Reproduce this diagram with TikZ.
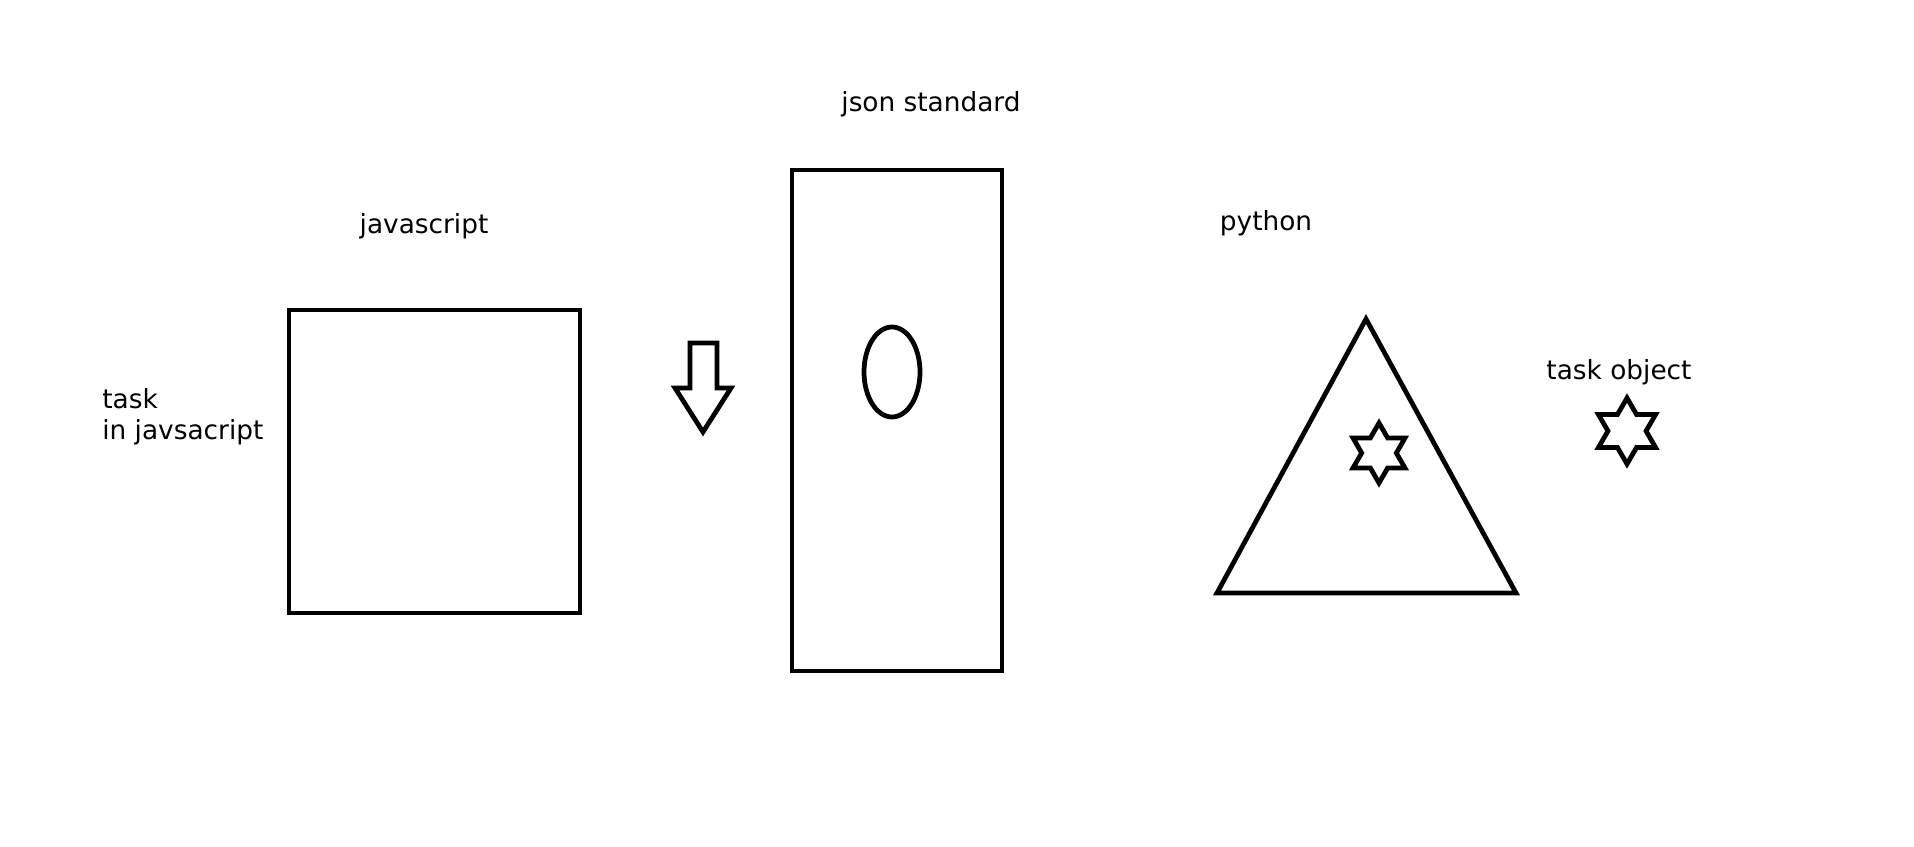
\documentclass[tikz,border=0pt]{standalone}
\usepackage{fontspec}
\setmainfont{DejaVu Sans}
\usepackage{tikz}
\usetikzlibrary{positioning, calc}
\tikzset{shapeline/.style = {draw=black, line width=0.095cm, line join=miter},
	labeltext/.style = {text=black, inner sep=0pt, font=\fontsize{15}{17}\selectfont}}
\NewDocumentCommand{\hexstar}{m m}{%
	\draw[shapeline] ([shift={(90:#2)}]#1)
	\foreach \k [evaluate=\k as \rr using {mod(\k,2)==1 ? #2/1.732 : #2}] in {1,...,11}{
		-- ([shift={(90+30*\k:\rr)}]#1)} -- cycle;
}

\begin{document}
\begin{tikzpicture}[x=0.02cm, y=-0.02cm]
\useasboundingbox[fill=white] (0,0) rectangle (1914,847);
\node[labeltext] (jslabel) at (424,226) {javascript};
\node[labeltext] (jsonlabel) at (931,104) {json standard};
\node[labeltext] (pylabel) at (1266,223) {python};
\node[labeltext] (objlabel) at (1619,372) {task object};
\node[labeltext, anchor=west, align=left, font=\fontsize{15}{17.5}\selectfont] (tasklabel) at (102,417) {task\\in javsacript};
\draw[shapeline] (289,310) rectangle (580,613);
\draw[shapeline] (792,170) rectangle (1002,671);
\draw[shapeline] (892,372) ellipse [x radius=28, y radius=45];
\draw[shapeline] (690,343) -- (717,343) -- (717,388) -- (731,388) -- (703,432) -- (675,388) -- (690,388) -- cycle;
\draw[shapeline] (1366,319) -- (1516,593) -- (1217,593) -- cycle;
\coordinate (innerstar) at (1379,453);
\coordinate (objstar) at (1627,431);
\hexstar{innerstar}{30}
\hexstar{objstar}{33}
\end{tikzpicture}
\end{document}
